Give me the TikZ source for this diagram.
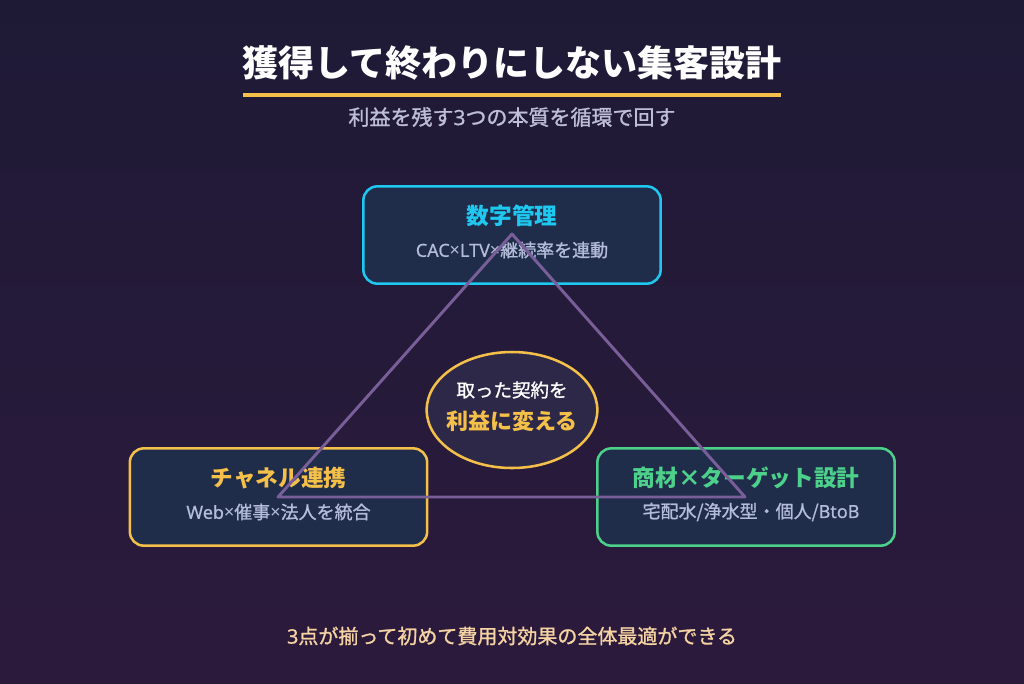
\documentclass[tikz,border=0pt]{standalone}
\usepackage{fontspec}
\setmainfont{Noto Sans CJK JP}
\newfontfamily\jpmed[FakeBold=1.2]{Noto Sans CJK JP}
\newfontfamily\latx{Noto Sans}
\newfontfamily\latmed[FakeBold=0.6]{Noto Sans}
\newcommand{\smx}{{\latx ×}}
\newcommand{\lt}[1]{{\latmed #1}}
\usetikzlibrary{shapes.geometric}
\definecolor{bgtop}{HTML}{1E1A36}
\definecolor{bgbot}{HTML}{2C1A3C}
\definecolor{boxfill}{HTML}{1F2D4B}
\definecolor{cyanc}{HTML}{1EC8F0}
\definecolor{yell}{HTML}{F5C04A}
\definecolor{greenc}{HTML}{4CD08A}
\definecolor{subc}{HTML}{B3BCD8}
\definecolor{trip}{HTML}{7A5E9A}
\definecolor{ellfill}{HTML}{2E2848}
\definecolor{peach}{HTML}{F5D3A3}
\definecolor{subtitlec}{HTML}{BEBED8}
\tikzset{
  card/.style={draw=#1, line width=1.9pt, fill=boxfill, rounded corners=10.5pt, minimum width=223pt, minimum height=73pt},
  cardtitle/.style={text=#1, font=\bfseries\fontsize{17}{20}\selectfont, inner sep=0pt},
  cardsub/.style={text=subc, font=\jpmed\fontsize{13.5}{16}\selectfont, inner sep=0pt},
}
\begin{document}
\begin{tikzpicture}[x=0.75pt,y=-0.75pt]
\useasboundingbox (0,0) rectangle (1024,683);
\shade[top color=bgtop, bottom color=bgbot] (0,0) rectangle (1024,683);
% title
\node[text=white, font=\bfseries\fontsize{27}{32}\selectfont, inner sep=0pt] (title) at (512,63) {獲得して終わりにしない集客設計};
\coordinate (ulA) at (243,95);
\coordinate (ulB) at (781,95);
\draw[yell, line width=2.4pt] (ulA) -- (ulB);
\node[text=subtitlec, font=\jpmed\fontsize{15.75}{19}\selectfont, inner sep=0pt] (subtitle) at (512,117) {利益を残す\lt{3}つの本質を循環で回す};
% cards
\node[card=cyanc] (top) at (512,235) {};
\node[cardtitle=cyanc] (toptitle) at (512,216) {数字管理};
\node[cardsub] (topsub) at (512,250) {\lt{CAC}\smx\lt{LTV}\smx 継続率を連動};
\node[card=yell] (left) at (278.5,497) {};
\node[cardtitle=yell] (lefttitle) at (278.5,478) {チャネル連携};
\node[cardsub] (leftsub) at (278.5,512) {\lt{Web}\smx 催事\smx 法人を統合};
\node[card=greenc] (right) at (746,497) {};
\node[cardtitle=greenc] (righttitle) at (746,478) {商材×ターゲット設計};
\node[cardsub] (rightsub) at (751,512) {宅配水/浄水型・個人/\lt{BtoB}};
% triangle
\coordinate (tA) at (512,234);
\coordinate (tB) at (278,497);
\coordinate (tC) at (745,497);
\draw[trip, line width=2.2pt, line join=round] (tA) -- (tB) -- (tC) -- cycle;
% center ellipse
\node[ellipse, draw=yell, line width=1.9pt, fill=ellfill, minimum width=128pt, minimum height=87pt] (center) at (512,410) {};
\node[text=white, font=\jpmed\fontsize{13.9}{16}\selectfont, inner sep=0pt] (c1) at (512,390) {取った契約を};
\node[text=yell, font=\bfseries\fontsize{16.5}{19}\selectfont, inner sep=0pt] (c2) at (512,421) {利益に変える};
% bottom
\node[text=peach, font=\jpmed\fontsize{15}{18}\selectfont, inner sep=0pt] (bottom) at (512,636) {\lt{3}点が揃って初めて費用対効果の全体最適ができる};
\end{tikzpicture}
\end{document}
